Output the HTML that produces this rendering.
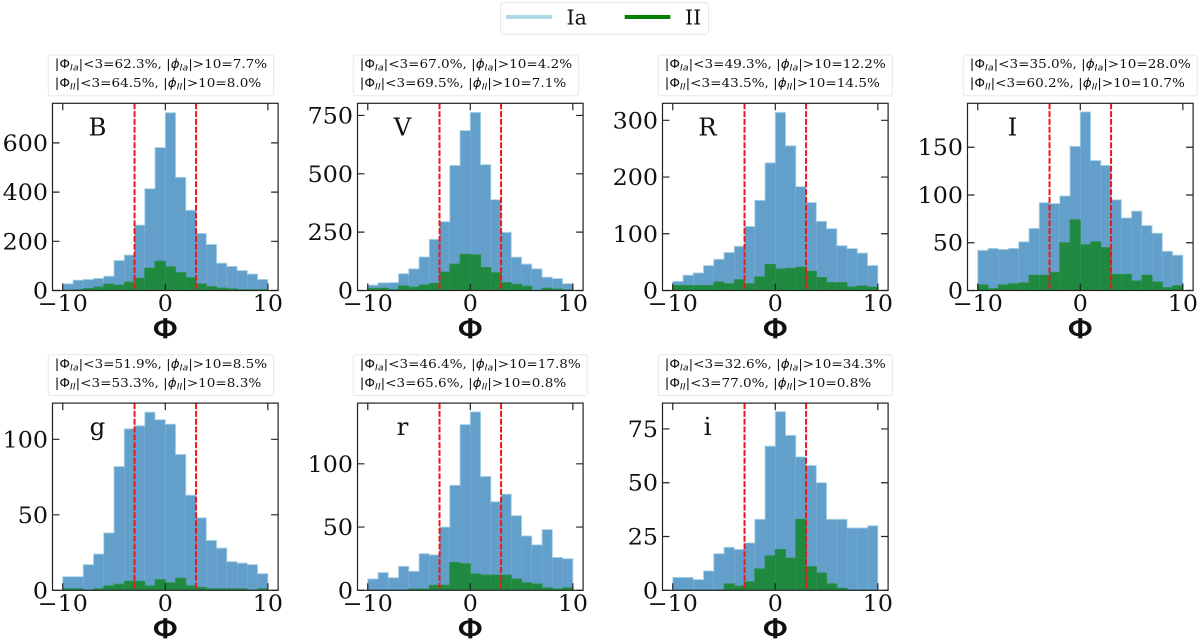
<!DOCTYPE html>
<html lang="en">
<head>
<meta charset="utf-8">
<title>Phi histograms by photometric band</title>
<style>
html,body{margin:0;padding:0;background:#fff;width:1200px;height:644px;overflow:hidden}
svg{display:block;filter:blur(0.3px)}
text{font-family:"DejaVu Serif","Liberation Serif",serif;fill:#111}
</style>
</head>
<body>
<svg id="chart" width="1200" height="644" viewBox="0 0 1200 644" xmlns="http://www.w3.org/2000/svg">
  <g>
    <rect x="500.7" y="2.7" width="208" height="31.5" rx="3" fill="#fff" stroke="#e6e6e6" stroke-width="1"/>
    <line x1="506" x2="552" y1="17" y2="17" stroke="#add8e6" stroke-width="4"/>
    <text transform="translate(566.5,24.3)" font-size="20.5">Ia</text>
    <line x1="624.7" x2="670.3" y1="17" y2="17" stroke="#008000" stroke-width="4"/>
    <text transform="translate(685,24.3)" font-size="20.5">II</text>
  </g>
</svg>
<script>
// Shared axis data
const bands = ['B', 'V', 'R', 'I', 'g', 'r', 'i'];
const binEdgeStart = -10;
const binWidth = 1;
const xLimits = [-11, 11];
const xTicks = [-10, 0, 10];
const cutLines = [-3, 3];

// Type Ia counts per bin
const iaB = [27, 42, 45, 49, 58, 122, 144, 266, 414, 581, 723, 460, 326, 232, 187, 111, 98, 81, 67, 45];
const iaV = [23, 33, 34, 72, 93, 144, 219, 295, 536, 685, 763, 539, 389, 249, 143, 113, 93, 57, 51, 29];
const iaR = [16, 27, 31, 44, 55, 67, 78, 113, 159, 225, 314, 255, 183, 155, 122, 109, 79, 74, 66, 44];
const iaI = [42, 44, 43, 44, 51, 65, 92, 91, 99, 151, 187, 136, 131, 95, 76, 83, 68, 60, 41, 37];
const iag = [9, 9, 17, 24, 38, 82, 107, 109, 118, 113, 110, 90, 63, 48, 33, 28, 19, 18, 17, 11];
const iar = [9, 14, 10, 19, 15, 29, 28, 50, 83, 131, 141, 90, 70, 76, 59, 43, 36, 48, 26, 25];
const iai = [6, 6, 5, 9, 17, 20, 19, 22, 33, 67, 83, 72, 62, 58, 50, 33, 33, 29, 29, 30];

// Type II counts per bin
const iiB = [1, 3, 8, 14, 26, 22, 34, 50, 91, 119, 96, 73, 52, 27, 16, 10, 7, 4, 3, 3];
const iiV = [9, 10, 4, 20, 14, 24, 31, 79, 113, 155, 153, 99, 76, 34, 27, 19, 1, 10, 6, 3];
const iiR = [9, 9, 9, 9, 15, 12, 19, 12, 24, 46, 38, 39, 41, 34, 23, 14, 14, 6, 8, 6];
const iiI = [6, 2, 6, 7, 8, 16, 16, 19, 50, 74, 48, 51, 45, 17, 17, 10, 16, 9, 3, 5];
const iig = [1, 1, 0, 1, 3, 4, 6, 6, 3, 7, 5, 8, 3, 2, 1, 1, 1, 1, 0, 1];
const iir = [0, 0, 0, 0, 1, 1, 4, 4, 22, 21, 13, 12, 12, 12, 9, 6, 5, 2, 1, 2];
const iii = [0, 0, 0, 0, 0, 3, 2, 4, 10, 16, 19, 15, 33, 11, 8, 3, 1, 0, 0, 0];

// Y axis tick labels and upper limits
const yTicksB = [0, 200, 400, 600];
const yTicksV = [0, 250, 500, 750];
const yTicksR = [0, 100, 200, 300];
const yTicksI = [0, 50, 100, 150];
const yTicksg = [0, 50, 100];
const yTicksr = [0, 50, 100];
const yTicksi = [0, 25, 50, 75];
const yMaxes = [761, 802, 330, 196, 124, 148, 87];

// Printed percentages: [|Phi|<3, |phi|>10]
const pctIa = [['62.3', '7.7'], ['67.0', '4.2'], ['49.3', '12.2'], ['35.0', '28.0'], ['51.9', '8.5'], ['46.4', '17.8'], ['32.6', '34.3']];
const pctII = [['64.5', '8.0'], ['69.5', '7.1'], ['43.5', '14.5'], ['60.2', '10.7'], ['53.3', '8.3'], ['65.6', '0.8'], ['77.0', '0.8']];

const iaSeries = [iaB, iaV, iaR, iaI, iag, iar, iai];
const iiSeries = [iiB, iiV, iiR, iiI, iig, iir, iii];
const yTickSets = [yTicksB, yTicksV, yTicksR, yTicksI, yTicksg, yTicksr, yTicksi];

const NS = 'http://www.w3.org/2000/svg';
const svg = document.getElementById('chart');
const INFO_STRETCH = 1.094;
const TICK_STRETCH = 1.08;
const TICK_FONT = 22;
const AXW = 225.6;
const AXH = 187.2;

function make(tag, parent, attrs) {
  const node = document.createElementNS(NS, tag);
  for (const key in attrs) node.setAttribute(key, attrs[key]);
  parent.appendChild(node);
  return node;
}

function run(parent, str, opts) {
  const t = make('tspan', parent, opts || {});
  t.textContent = str;
  return t;
}

function infoLine(parent, sub, y, pair) {
  const t = make('text', parent, { transform: 'translate(0,' + y + ') scale(' + INFO_STRETCH + ',1)', 'font-size': 12.4 });
  
  
  const sans = '"DejaVu Sans",sans-serif';
  run(t, '|Φ', { 'font-family': sans });
  run(t, sub, { 'font-family': sans, 'font-style': 'italic', 'font-size': 8.6, dy: 2.5 });
  run(t, '|<3=' + pair[0] + '%, |', { dy: -2.5 });
  run(t, 'ϕ', { 'font-family': sans, 'font-style': 'italic' });
  run(t, sub, { 'font-family': sans, 'font-style': 'italic', 'font-size': 8.6, dy: 2.5 });
  run(t, '|>10=' + pair[1] + '%', { dy: -2.5 });
  return t;
}

bands.forEach(function (band, idx) {
  const col = idx % 4;
  const row = Math.floor(idx / 4);
  const left = 52.5 + 305 * col;
  const top = 103.3 + 299.8 * row;
  const bottom = top + AXH;
  const xScale = function (v) { return left + (v - xLimits[0]) / (xLimits[1] - xLimits[0]) * AXW; };
  const yScale = function (v) { return bottom - v / yMaxes[idx] * AXH; };

  const g = make('g', svg, {});
  
  

  // Stat annotation box
  const info = make('g', g, { transform: 'translate(' + (left + 2.3) + ',' + (top - 35.3) + ')' });
  
  
  const frame = make('rect', info, { x: -6.5, y: -13, height: 40.7, rx: 2, fill: '#fff', stroke: '#e8e8e8', 'stroke-width': 1 });
  
  
  const l1 = infoLine(info, 'Ia', 0, pctIa[idx]);
  const l2 = infoLine(info, 'II', 19, pctII[idx]);
  const longest = Math.max(l1.getComputedTextLength(), l2.getComputedTextLength()) * INFO_STRETCH;
  frame.setAttribute('width', longest + 13);

  // Bars, drawn from the series arrays
  [[iaSeries[idx], '#629fcb', '#a9d3e6', 'ia'], [iiSeries[idx], '#1f8a3f', '#2a9048', 'ii']].forEach(function (spec) {
    const values = spec[0];
    const sg = make('g', g, {});
    
    
    let outline = 'M' + xScale(binEdgeStart) + ' ' + bottom;
    values.forEach(function (v, i) {
      const x0 = xScale(binEdgeStart + i * binWidth);
      const x1 = xScale(binEdgeStart + (i + 1) * binWidth);
      const y = yScale(v);
      if (v > 0) {
        const bar = make('rect', sg, { x: x0, y: y, width: x1 - x0, height: bottom - y, fill: spec[1] });
        
        
      }
      outline += ' L' + x0 + ' ' + y + ' L' + x1 + ' ' + y;
    });
    outline += ' L' + xScale(binEdgeStart + values.length * binWidth) + ' ' + bottom;
    const edge = make('path', sg, { d: outline, fill: 'none', stroke: spec[2], 'stroke-width': 0.9 });
    
    
  });

  // Red cut lines
  cutLines.forEach(function (c) {
    const ln = make('line', g, { x1: xScale(c), x2: xScale(c), y1: top, y2: bottom, stroke: '#f31515', 'stroke-width': 2, 'stroke-dasharray': '6 1.8' });
    
    
  });

  // Frame
  const spine = make('rect', g, { x: left, y: top, width: AXW, height: AXH, fill: 'none', stroke: '#222', 'stroke-width': 1.2 });
  
  

  // X ticks
  xTicks.forEach(function (v) {
    const x = xScale(v);
    const tk = make('path', g, { d: 'M' + x + ' ' + bottom + ' v-7 M' + x + ' ' + top + ' v7', stroke: '#222', 'stroke-width': 1.2, fill: 'none' });
    
    
    const lab = make('text', g, { transform: 'translate(' + x + ',' + (bottom + 20.5) + ') scale(' + TICK_STRETCH + ',1)', 'text-anchor': 'middle', 'font-size': TICK_FONT });
    
    
    lab.textContent = v < 0 ? '−' + Math.abs(v) : String(v);
  });

  // Y ticks
  yTickSets[idx].forEach(function (v) {
    const y = yScale(v);
    const tk = make('path', g, { d: 'M' + left + ' ' + y + ' h7 M' + (left + AXW) + ' ' + y + ' h-7', stroke: '#222', 'stroke-width': 1.2, fill: 'none' });
    
    
    const lab = make('text', g, { transform: 'translate(' + (left - 4.5) + ',' + (y + 8) + ') scale(' + TICK_STRETCH + ',1)', 'text-anchor': 'end', 'font-size': TICK_FONT });
    
    
    lab.textContent = String(v);
  });

  // Band letter
  const letter = make('text', g, { transform: 'translate(' + (left + 45) + ',' + (top + 32) + ') scale(1.02,1)', 'text-anchor': 'middle', 'font-size': 24 });
  
  
  letter.textContent = band;

  // X axis title
  const title = make('text', g, { transform: 'translate(' + xScale(0) + ',' + (bottom + 47.5) + ') scale(1.2,1)', 'text-anchor': 'middle', 'font-size': 27, style: 'font-family:"DejaVu Sans",sans-serif;stroke:#111;stroke-width:0.7px' });
  
  
  title.textContent = 'Φ';
});
</script>
</body>
</html>
